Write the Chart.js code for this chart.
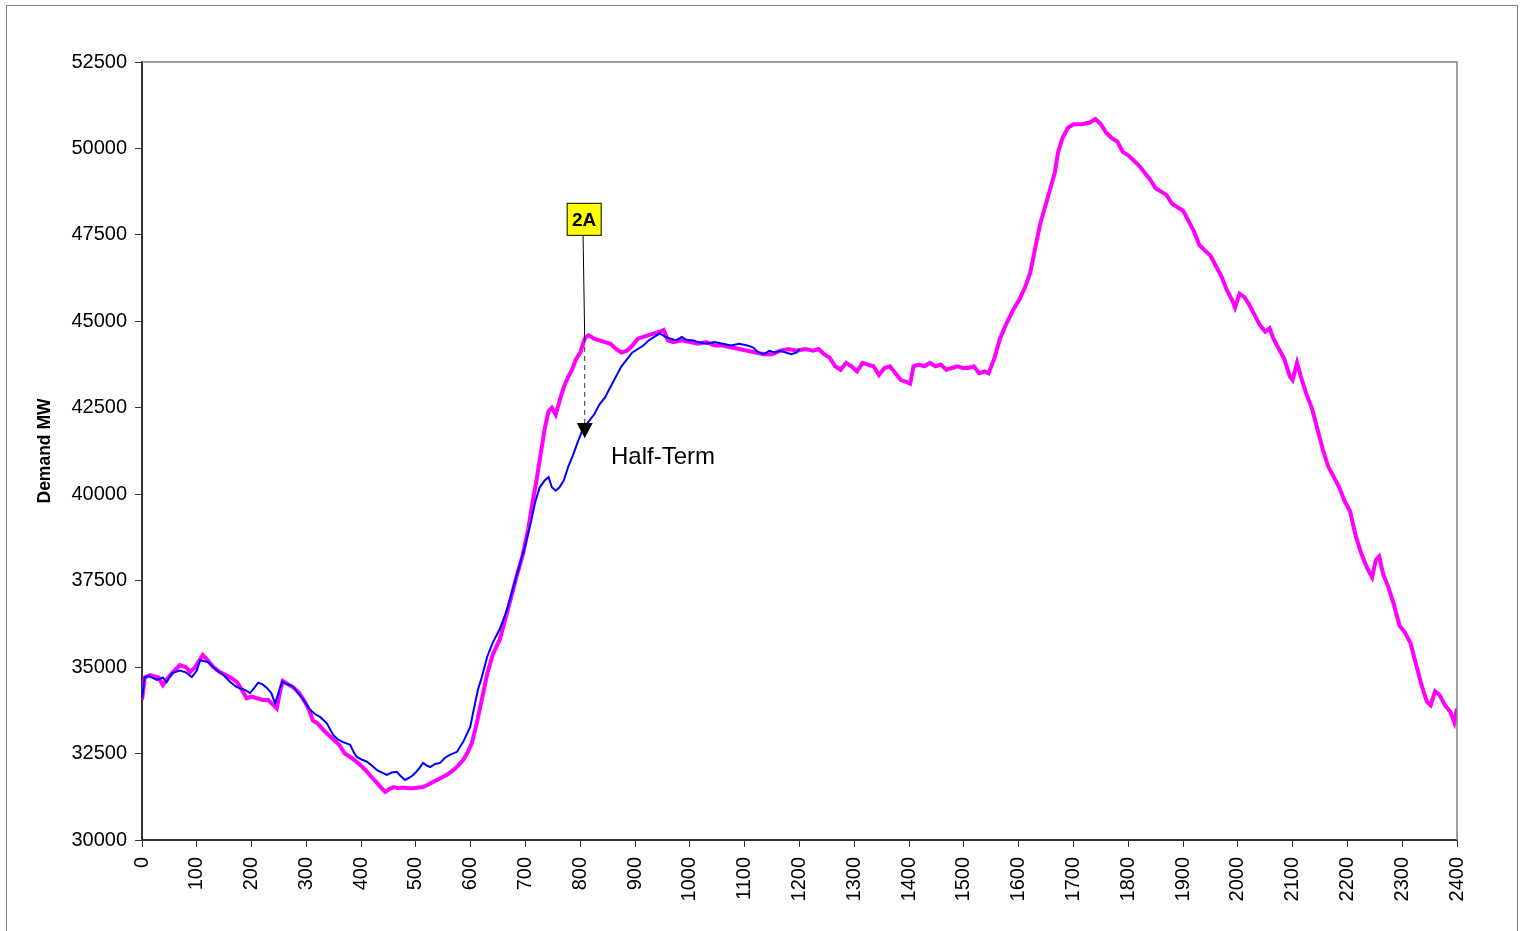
<!DOCTYPE html>
<html>
<head>
<meta charset="utf-8">
<script src="https://cdn.jsdelivr.net/npm/chart.js@4.4.0/dist/chart.umd.min.js"></script>
<style>
  html, body { margin: 0; padding: 0; background: #fff; }
  #wrap { width: 1521px; height: 931px; position: relative; }
</style>
</head>
<body>
<div id="wrap"><canvas id="demandChart"></canvas></div>
<script>
// demand curves - half-term day vs normal day

const xTicks = [0,100,200,300,400,500,600,700,800,900,1000,1100,1200,1300,1400,1500,1600,1700,1800,1900,2000,2100,2200,2300,2400];
const yTicks = [30000,32500,35000,37500,40000,42500,45000,47500,50000,52500];

// magenta (normal) day
const normalTime = [0,5,15,30,38,48,57,69,80,88,97,111,120,130,142,152,161,173,182,191,200,210,220,230,240,246,252,257,267,277,287,297,305,312,320,330,340,350,360,370,380,390,400,411,420,429,437,444,452,460,468,476,486,495,505,513,522,531,540,549,558,568,577,586,595,602,611,620,630,640,653,665,675,685,695,705,712,720,728,735,742,748,755,762,770,778,785,792,800,808,815,825,835,845,855,865,875,885,895,905,915,925,935,945,952,960,970,985,1000,1015,1030,1045,1060,1075,1090,1105,1120,1135,1150,1165,1180,1195,1210,1225,1235,1245,1255,1265,1275,1285,1295,1305,1315,1325,1335,1345,1355,1365,1375,1385,1395,1402,1408,1418,1428,1438,1448,1458,1468,1478,1488,1498,1508,1518,1528,1538,1545,1555,1566,1578,1590,1602,1612,1621,1630,1639,1648,1657,1666,1672,1680,1690,1700,1715,1730,1740,1750,1760,1770,1780,1790,1800,1810,1820,1830,1840,1850,1860,1870,1880,1890,1900,1910,1920,1930,1940,1950,1960,1970,1980,1990,1995,2003,2012,2020,2030,2040,2050,2058,2065,2075,2085,2095,2100,2108,2115,2125,2135,2145,2155,2165,2175,2185,2195,2205,2215,2225,2235,2245,2252,2258,2265,2275,2285,2295,2305,2315,2325,2335,2345,2352,2360,2368,2378,2388,2395,2400];
const normalMW = [34050,34700,34770,34700,34480,34700,34860,35060,35000,34860,35000,35350,35200,35000,34860,34780,34710,34570,34350,34100,34150,34100,34050,34050,33900,33800,34300,34600,34500,34400,34250,34000,33760,33450,33380,33200,33040,32900,32750,32500,32400,32280,32150,31970,31800,31650,31500,31390,31480,31530,31500,31520,31500,31500,31520,31530,31600,31680,31750,31820,31900,32020,32150,32310,32550,32800,33380,34050,34800,35350,35800,36500,37100,37700,38250,39000,39700,40400,41200,41900,42400,42500,42300,42700,43100,43400,43600,43900,44100,44500,44600,44500,44450,44400,44350,44200,44100,44150,44300,44500,44550,44600,44650,44700,44750,44450,44400,44450,44400,44350,44400,44300,44300,44250,44200,44150,44100,44050,44050,44150,44200,44150,44200,44150,44200,44050,43950,43700,43600,43800,43700,43550,43800,43750,43700,43450,43650,43700,43500,43300,43250,43200,43700,43750,43700,43800,43700,43750,43600,43650,43700,43650,43650,43700,43500,43550,43500,43900,44500,44950,45330,45650,46000,46400,47100,47800,48300,48800,49300,49900,50300,50600,50700,50700,50750,50850,50700,50450,50300,50200,49900,49800,49650,49500,49300,49100,48850,48750,48650,48400,48300,48200,47900,47600,47200,47050,46900,46600,46300,45900,45600,45400,45800,45700,45500,45200,44900,44700,44800,44500,44200,43900,43400,43300,43800,43400,42900,42500,41900,41300,40800,40500,40200,39800,39500,38800,38300,37900,37600,38100,38200,37700,37300,36800,36200,36000,35700,35100,34500,34000,33900,34300,34200,33900,33700,33400,33800];

// blue (half-term) day, only up to 1200
const halfTermTime = [0,5,12,27,38,45,55,69,80,91,100,106,120,137,150,161,173,188,197,205,212,220,228,236,243,250,256,265,275,285,295,305,315,325,337,349,358,367,380,386,392,402,411,420,429,438,447,456,465,472,480,488,495,505,513,520,526,535,544,553,562,575,586,599,608,613,620,630,640,653,667,681,690,699,710,718,726,735,742,748,755,762,770,778,786,795,805,815,825,835,845,855,865,875,885,895,905,915,925,935,945,955,965,975,985,995,1005,1015,1030,1045,1060,1075,1090,1105,1115,1125,1135,1145,1155,1165,1175,1185,1195,1200];
const halfTermMW = [34100,34700,34750,34630,34700,34570,34830,34900,34850,34710,34900,35200,35150,34900,34750,34570,34420,34340,34250,34400,34550,34500,34400,34250,33950,34300,34580,34500,34450,34250,34050,33800,33650,33560,33380,33040,32900,32830,32750,32550,32400,32320,32260,32150,32020,31950,31880,31950,31970,31850,31735,31800,31880,32050,32230,32150,32110,32200,32230,32380,32460,32550,32830,33270,33960,34340,34700,35300,35700,36100,36700,37500,38000,38500,39200,39800,40200,40400,40500,40200,40100,40200,40400,40800,41100,41500,41900,42100,42300,42600,42800,43100,43400,43700,43900,44100,44200,44300,44450,44550,44650,44550,44500,44450,44550,44450,44450,44400,44350,44400,44350,44300,44350,44300,44250,44100,44050,44150,44100,44150,44100,44050,44100,44200];

const FONT = "'Liberation Sans', Arial, sans-serif";

// frame, plot border and the "2A" callout
const decorPlugin = {
  id: 'decor',
  beforeDraw(chart) {
    const ctx = chart.ctx;
    ctx.save();
    ctx.fillStyle = '#fff';
    ctx.fillRect(0, 0, chart.width, chart.height);
    ctx.strokeStyle = '#808080';
    ctx.lineWidth = 1;
    ctx.strokeRect(6.5, 5.5, 1511, 940);
    ctx.restore();
  },
  afterDatasetsDraw(chart) {
    const ctx = chart.ctx;
    const a = chart.chartArea;
    const xs = chart.scales.x, ys = chart.scales.y;
    ctx.save();
    // top + right border in grey
    ctx.strokeStyle = '#808080';
    ctx.lineWidth = 1.5;
    ctx.beginPath();
    ctx.moveTo(a.left, a.top);
    ctx.lineTo(a.right, a.top);
    ctx.lineTo(a.right, a.bottom);
    ctx.stroke();

    const boxX = xs.getPixelForValue(807), boxY = ys.getPixelForValue(47950);
    const lineX0 = xs.getPixelForValue(805), lineX1 = xs.getPixelForValue(808);
    const hitY = ys.getPixelForValue(44520);
    const baseY = ys.getPixelForValue(42060);
    const tipY = ys.getPixelForValue(41620);

    // solid leader
    ctx.strokeStyle = '#000';
    ctx.lineWidth = 1;
    ctx.beginPath();
    ctx.moveTo(lineX0, boxY + 16);
    ctx.lineTo(lineX1, hitY);
    ctx.stroke();
    // dashed part
    ctx.strokeStyle = '#333';
    ctx.setLineDash([5, 4]);
    ctx.beginPath();
    ctx.moveTo(lineX1, hitY);
    ctx.lineTo(lineX1, baseY);
    ctx.stroke();
    ctx.setLineDash([]);
    // arrow head
    ctx.fillStyle = '#000';
    ctx.beginPath();
    ctx.moveTo(lineX1 - 8, baseY);
    ctx.lineTo(lineX1 + 8, baseY);
    ctx.lineTo(lineX1, tipY);
    ctx.closePath();
    ctx.fill();

    // yellow label box
    ctx.fillStyle = '#ffff00';
    ctx.fillRect(boxX - 17.5, boxY - 16.5, 35, 33);
    ctx.strokeStyle = '#000';
    ctx.strokeRect(boxX - 17, boxY - 16, 34, 32);
    ctx.fillStyle = '#000';
    ctx.font = 'bold 19px ' + FONT;
    ctx.textAlign = 'center';
    ctx.textBaseline = 'middle';
    ctx.fillText('2A', boxX, boxY + 1);

    ctx.font = '24px ' + FONT;
    ctx.textAlign = 'left';
    ctx.fillText('Half-Term', xs.getPixelForValue(856), ys.getPixelForValue(41080));
    ctx.restore();
  }
};

new Chart(document.getElementById('demandChart').getContext('2d'), {
  type: 'line',
  data: {
    datasets: [{
      label: 'Half-Term',
      data: halfTermTime.map((t, i) => ({ x: t, y: halfTermMW[i] })),
      borderColor: '#0000ff',
      borderWidth: 2,
      pointRadius: 0,
      tension: 0,
      fill: false
    }, {
      label: 'Normal',
      data: normalTime.map((t, i) => ({ x: t, y: normalMW[i] })),
      borderColor: '#ff00ff',
      borderWidth: 4,
      pointRadius: 0,
      tension: 0,
      fill: false
    }]
  },
  options: {
    responsive: true,
    maintainAspectRatio: false,
    animation: false,
    layout: { padding: { left: 30, top: 62, right: 64, bottom: 0 } },
    plugins: { legend: { display: false }, tooltip: { enabled: false } },
    scales: {
      x: {
        type: 'linear',
        min: 0, max: 2400,
        afterBuildTicks: s => { s.ticks = xTicks.map(v => ({ value: v })); },
        afterFit: s => { s.height = 91; },
        grid: { drawOnChartArea: false, tickLength: 7, color: '#333', lineWidth: 1 },
        border: { color: '#333', width: 2 },
        ticks: {
          autoSkip: false, minRotation: 90, maxRotation: 90, padding: 10,
          color: '#000', font: { family: FONT, size: 20 },
          callback: v => String(v)
        }
      },
      y: {
        min: 30000, max: 52500,
        afterBuildTicks: s => { s.ticks = yTicks.map(v => ({ value: v })); },
        afterFit: s => { s.width = 112; },
        grid: { drawOnChartArea: false, tickLength: 7, color: '#333', lineWidth: 1 },
        border: { color: '#333', width: 2 },
        ticks: {
          padding: 8, color: '#000', font: { family: FONT, size: 20 },
          callback: v => String(v)
        },
        title: {
          display: true, text: 'Demand MW', color: '#000',
          font: { family: FONT, size: 17.5, weight: 'bold' },
          padding: { top: 5, bottom: 0 }
        }
      }
    }
  },
  plugins: [decorPlugin]
});
</script>
</body>
</html>
